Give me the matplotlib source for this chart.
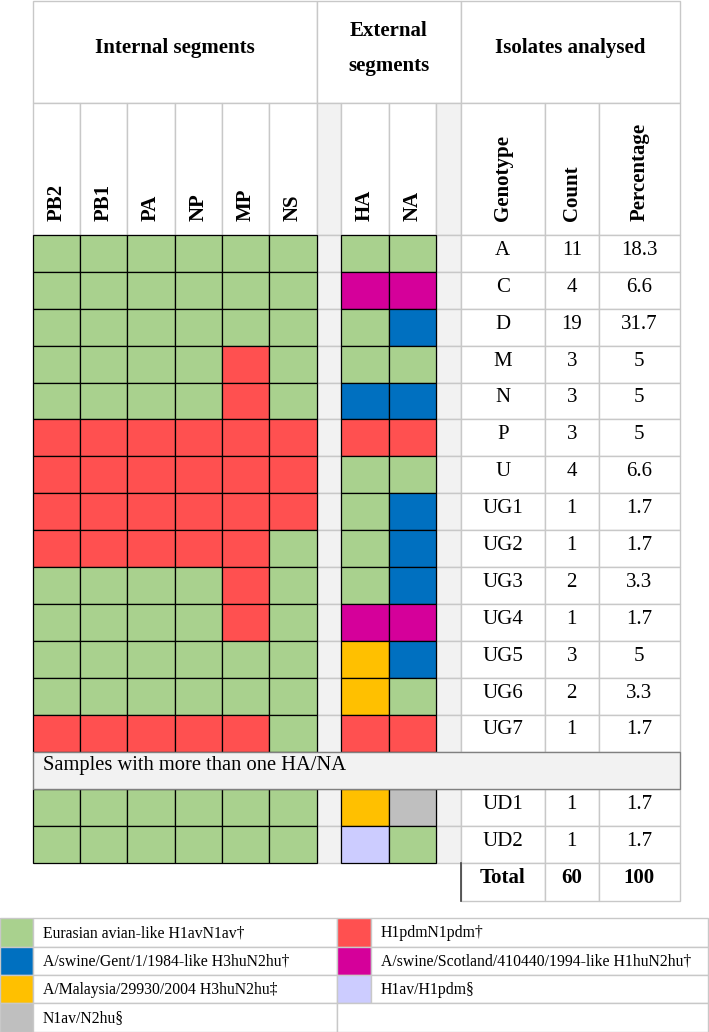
import matplotlib.pyplot as plt
from matplotlib.patches import Rectangle

# table data
segments = ['PB2', 'PB1', 'PA', 'NP', 'MP', 'NS', 'HA', 'NA']
genotypes = ['A', 'C', 'D', 'M', 'N', 'P', 'U', 'UG1', 'UG2', 'UG3', 'UG4', 'UG5', 'UG6', 'UG7']
counts = [11, 4, 19, 3, 3, 3, 4, 1, 1, 2, 1, 3, 2, 1]
percentages = ['18.3', '6.6', '31.7', '5', '5', '5', '6.6', '1.7', '1.7', '3.3', '1.7', '5', '3.3', '1.7']
# one letter per segment: PB2 PB1 PA NP MP NS HA NA
lineages = ['GGGGGGGG', 'GGGGGGMM', 'GGGGGGGB', 'GGGGRGGG', 'GGGGRGBB', 'RRRRRRRR', 'RRRRRRGG',
            'RRRRRRGB', 'RRRRRGGB', 'GGGGRGGB', 'GGGGRGMM', 'GGGGGGOB', 'GGGGGGOG', 'RRRRRGRR']
mixed_genotypes = ['UD1', 'UD2']
mixed_counts = [1, 1]
mixed_percentages = ['1.7', '1.7']
mixed_lineages = ['GGGGGGOY', 'GGGGGGLG']
total_count = 60
total_pct = 100

colors = {'G': '#a9d18e', 'R': '#ff5050', 'B': '#0070c0', 'M': '#d5009a',
          'O': '#ffc000', 'Y': '#bfbfbf', 'L': '#ccccff'}
legend_keys = ['G', 'R', 'B', 'M', 'O', 'L', 'Y']
legend_labels = ['Eurasian avian-like H1avN1av\u2020', 'H1pdmN1pdm\u2020',
                 'A/swine/Gent/1/1984-like H3huN2hu\u2020',
                 'A/swine/Scotland/410440/1994-like H1huN2hu\u2020',
                 'A/Malaysia/29930/2004 H3huN2hu\u2021', 'H1av/H1pdm\u00a7',
                 'N1av/N2hu\u00a7']

plt.rcParams['font.family'] = ['Liberation Serif', 'DejaVu Serif']

fig = plt.figure(figsize=(7.09, 10.32), dpi=100)
ax = fig.add_axes([0, 0, 1, 1])
ax.set_xlim(0, 709)
ax.set_ylim(1032, 0)
ax.axis('off')

LIGHT = '#c8c8c8'
GAP = '#f2f2f2'

# column edges (pixels)
xe = [32.6, 79.9, 127.2, 174.5, 221.8, 269.1, 316.7, 341, 389, 436, 460.6, 545, 598.6, 680]
seg_x = [0, 1, 2, 3, 4, 5, 7, 8]   # column index of each segment
gap_cols = [6, 9]
h_top, h_hdr, rh = 1, 103, 235
row_h = 36.9


def cell(x0, x1, y0, y1, fc='white', ec=LIGHT, lw=1.0, z=1):
    ax.add_patch(Rectangle((x0, y0), x1 - x0, y1 - y0, facecolor=fc, edgecolor=ec, lw=lw, zorder=z))


# header row 1
cell(xe[0], xe[6], h_top, h_hdr)
cell(xe[6], xe[10], h_top, h_hdr)
cell(xe[10], xe[13], h_top, h_hdr)
hfont = dict(fontsize=15, fontweight='bold', ha='center', va='baseline')
ax.text((xe[0] + xe[6]) / 2, 53.3, 'Internal segments', **hfont)
ax.text((xe[6] + xe[10]) / 2, 35.7, 'External', **hfont)
ax.text((xe[6] + xe[10]) / 2, 70.7, 'segments', **hfont)
ax.text((xe[10] + xe[13]) / 2, 53.3, 'Isolates analysed', **hfont)

# header row 2
for c in range(13):
    cell(xe[c], xe[c + 1], h_hdr, rh, fc=GAP if c in gap_cols else 'white')
names = segments + ['Genotype', 'Count', 'Percentage']
name_cols = seg_x + [10, 11, 12]
for name, c in zip(names, name_cols):
    ax.text((xe[c] + xe[c + 1]) / 2, 221, name, rotation=90, fontsize=15,
            fontweight='bold', ha='center', va='bottom')


def data_row(y0, y1, geno, cnt, pct, lin):
    for c in gap_cols:
        cell(xe[c], xe[c + 1], y0, y1, fc=GAP, ec=LIGHT)
    for c in (10, 11, 12):
        cell(xe[c], xe[c + 1], y0, y1, ec=LIGHT)
    for k, c in zip(lin, seg_x):
        cell(xe[c], xe[c + 1], y0, y1, fc=colors[k], ec='black', lw=0.9, z=3)
    for txt, c in zip([geno, str(cnt), pct], (10, 11, 12)):
        ax.text((xe[c] + xe[c + 1]) / 2, y0 + 19.8, txt, fontsize=15, ha='center', va='baseline')


y = rh
for g, n, p, lin in zip(genotypes, counts, percentages, lineages):
    data_row(y, y + row_h, g, n, p, lin)
    y += row_h

# samples row
cell(xe[0], xe[13], y, y + 37.7, fc=GAP, ec='#808080', z=4)
ax.text(xe[0] + 10, y + 18.5, 'Samples with more than one HA/NA', fontsize=14.8,
        ha='left', va='baseline', zorder=5)
y += 37.7

for g, n, p, lin in zip(mixed_genotypes, mixed_counts, mixed_percentages, mixed_lineages):
    data_row(y, y + row_h, g, n, p, lin)
    y += row_h

# total row
for txt, c in zip(['Total', str(total_count), str(total_pct)], (10, 11, 12)):
    cell(xe[c], xe[c + 1], y, y + 37.5)
    ax.text((xe[c] + xe[c + 1]) / 2, y + 20, txt, fontsize=15, fontweight='bold', ha='center', va='baseline')
ax.plot([xe[10], xe[10]], [y, y + 37.5], color='#404040', lw=1.2, zorder=5)

# legend
lx = [0, 32.6, 337, 371, 708]
ly0, lrh = 918.3, 28.3
for i, (k, lab) in enumerate(zip(legend_keys, legend_labels)):
    r, side = divmod(i, 2)
    y0 = ly0 + r * lrh
    cell(lx[2 * side], lx[2 * side + 1], y0, y0 + lrh, fc=colors[k])
    cell(lx[2 * side + 1], lx[2 * side + 2], y0, y0 + lrh)
    ax.text(lx[2 * side + 1] + 10, y0 + 19, lab, fontsize=11.3, ha='left', va='baseline')
# empty last legend cell
cell(lx[2], lx[4], ly0 + 3 * lrh, ly0 + 4 * lrh)

fig.savefig('out.png', dpi=100)
